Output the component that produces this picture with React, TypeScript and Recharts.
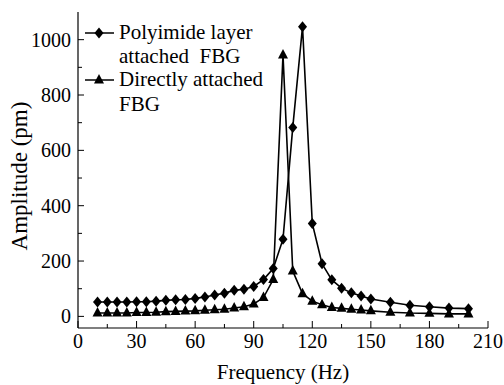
import { LineChart, Line, XAxis, YAxis } from 'recharts';

const frequency = [
  10, 15, 20, 25, 30, 35, 40, 45, 50, 55, 60, 65, 70, 75, 80, 85, 90, 95, 100,
  105, 110, 115, 120, 125, 130, 135, 140, 145, 150, 160, 170, 180, 190, 200,
];
const polyimideLayer = [
  52, 52, 52, 52, 53, 53, 55, 58, 60, 61, 65, 70, 77, 84, 94, 98, 108, 133, 173,
  279, 683, 1047, 336, 190, 132, 102, 85, 74, 63, 51, 40, 35, 30, 28,
];
const directlyAttached = [
  12, 12, 12, 12, 14, 14, 15, 17, 18, 19, 20, 22, 24, 26, 30, 35, 45, 68, 133,
  945, 164, 82, 55, 42, 32, 29, 26, 23, 20, 15, 12, 11, 9, 9,
];
const xTicks = [0, 15, 30, 45, 60, 75, 90, 105, 120, 135, 150, 165, 180, 195, 210];
const yTicks = [0, 100, 200, 300, 400, 500, 600, 700, 800, 900, 1000];

const data = frequency.map((f, i) => ({
  f,
  polyimide: polyimideLayer[i],
  direct: directlyAttached[i],
}));

const FONT = 'Liberation Serif, serif';

function Diamond({ cx, cy }: any) {
  if (cx == null || cy == null) return null;
  return <path d={`M${cx},${cy - 5.5}L${cx + 4.5},${cy}L${cx},${cy + 5.5}L${cx - 4.5},${cy}Z`} fill="#000" />;
}

function Triangle({ cx, cy }: any) {
  if (cx == null || cy == null) return null;
  return <path d={`M${cx},${cy - 6}L${cx + 5},${cy + 3.5}L${cx - 5},${cy + 3.5}Z`} fill="#000" />;
}

function XTick({ x, y, payload }: any) {
  const major = payload.value % 30 === 0;
  return (
    <g>
      <line x1={x} x2={x} y1={y} y2={y - (major ? 7 : 4)} stroke="#000" strokeWidth={1} />
      {major && (
        <text x={x} y={y + 20} textAnchor="middle" fontFamily={FONT} fontSize={20} fill="#000">
          {payload.value}
        </text>
      )}
    </g>
  );
}

function YTick({ x, y, payload }: any) {
  const major = payload.value % 200 === 0;
  return (
    <g>
      <line x1={x} x2={x + (major ? 6 : 4)} y1={y} y2={y} stroke="#000" strokeWidth={1} />
      {major && (
        <text x={x - 7} y={y + 7} textAnchor="end" fontFamily={FONT} fontSize={20} fill="#000">
          {payload.value}
        </text>
      )}
    </g>
  );
}

// legend drawn as an overlay so it does not take space from the plot
function LegendBox() {
  return (
    <svg width={300} height={120} style={{ position: 'absolute', left: 0, top: 0 }} fontFamily={FONT}>
      <line x1={85} x2={114} y1={33} y2={33} stroke="#000" strokeWidth={1.5} />
      <Diamond cx={99} cy={33} />
      <text x={119} y={39} fontSize={21} fill="#000">Polyimide layer</text>
      <text x={119} y={63} fontSize={21} fill="#000" style={{ whiteSpace: 'pre' }}>
        attached  FBG
      </text>
      <line x1={85} x2={114} y1={80} y2={80} stroke="#000" strokeWidth={1.5} />
      <Triangle cx={99} cy={80} />
      <text x={119} y={86} fontSize={21} fill="#000">Directly attached</text>
      <text x={119} y={111} fontSize={21} fill="#000">FBG</text>
    </svg>
  );
}

export default function App() {
  return (
    <div style={{ position: 'absolute', left: 0, top: 0, width: 504, height: 385, background: '#fff', fontFamily: FONT }}>
      <LineChart width={504} height={385} data={data} margin={{ top: 12, right: 16, bottom: 0, left: 0 }}>
        <XAxis
          dataKey="f"
          type="number"
          domain={[0, 210]}
          ticks={xTicks}
          interval={0}
          tick={<XTick />}
          tickLine={false}
          tickSize={0}
          tickMargin={0}
          height={57}
          axisLine={{ stroke: '#000', strokeWidth: 1.2 }}
          label={{
            content: () => (
              <text x={283} y={379} textAnchor="middle" fontFamily={FONT} fontSize={21} fill="#000">
                Frequency (Hz)
              </text>
            ),
          }}
        />
        <XAxis xAxisId="top" orientation="top" type="number" domain={[0, 210]} height={0} tick={false} tickLine={false} axisLine={{ stroke: '#000', strokeWidth: 1.2 }} />
        <YAxis
          type="number"
          domain={[-42, 1100]}
          ticks={yTicks}
          interval={0}
          tick={<YTick />}
          tickLine={false}
          tickSize={0}
          tickMargin={0}
          width={78}
          axisLine={{ stroke: '#000', strokeWidth: 1.2 }}
          label={{
            content: () => (
              <text
                x={27}
                y={176}
                transform="rotate(-90 27 176)"
                textAnchor="middle"
                fontFamily={FONT}
                fontSize={23}
                fill="#000"
              >
                Amplitude (pm)
              </text>
            ),
          }}
        />
        <YAxis yAxisId="right" orientation="right" type="number" domain={[-42, 1100]} width={0} tick={false} tickLine={false} axisLine={{ stroke: '#000', strokeWidth: 1.2 }} />
        <Line
          dataKey="polyimide"
          stroke="#000"
          strokeWidth={1.6}
          dot={<Diamond />}
          activeDot={false}
          isAnimationActive={false}
        />
        <Line
          dataKey="direct"
          stroke="#000"
          strokeWidth={1.6}
          dot={<Triangle />}
          activeDot={false}
          isAnimationActive={false}
        />
      </LineChart>
      <LegendBox />
    </div>
  );
}
